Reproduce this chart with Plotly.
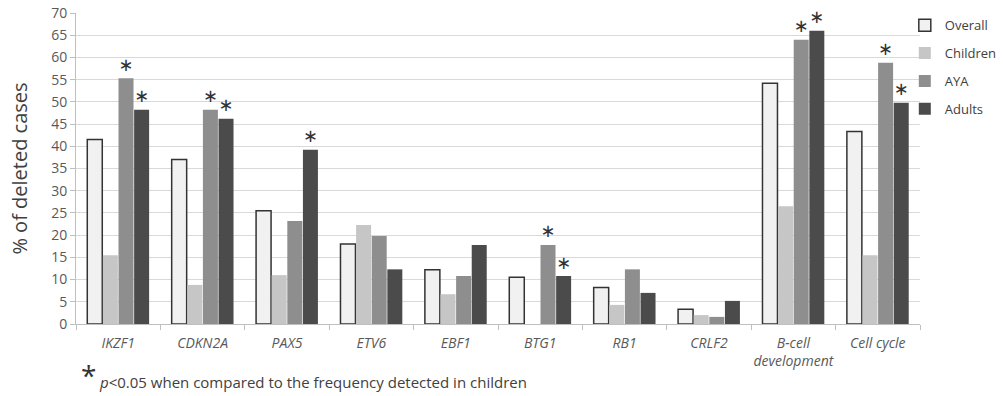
import plotly.graph_objects as go

categories = ["<i>IKZF1</i>", "<i>CDKN2A</i>", "<i>PAX5</i>", "<i>ETV6</i>", "<i>EBF1</i>",
              "<i>BTG1</i>", "<i>RB1</i>", "<i>CRLF2</i>", "<i>B-cell<br>development</i>", "<i>Cell cycle</i>"]
overall = [41.5, 37.0, 25.5, 18.0, 12.2, 10.5, 8.2, 3.3, 54.2, 43.3]
children = [15.5, 8.8, 11.0, 22.3, 6.7, 0.0, 4.3, 2.0, 26.5, 15.5]
aya = [55.3, 48.2, 23.2, 19.8, 10.8, 17.8, 12.3, 1.6, 64.0, 58.8]
adults = [48.2, 46.2, 39.2, 12.3, 17.8, 10.8, 7.0, 5.2, 66.0, 49.8]
aya_sig = [1, 1, 0, 0, 0, 1, 0, 0, 1, 1]
adults_sig = [1, 1, 1, 0, 0, 1, 0, 0, 1, 1]

font = "Open Sans, Noto Sans, sans-serif"
fig = go.Figure()

def add(name, vals, fill, line, lw, sig=None, group=None):
    txt = ["\u2217" if s else "" for s in sig] if sig else None
    fig.add_trace(go.Bar(
        x=categories, y=vals, name=name,
        marker=dict(color=fill, line=dict(color=line, width=lw)),
        text=txt, textposition="outside" if sig else None,
        textfont=dict(size=24, color="#333333", family="DejaVu Sans"),
        cliponaxis=False, legendgroup=group,
    ))

add("Overall", overall, "#f1f1f1", "#333333", 1.5, group="a")
add("Children", children, "#c6c6c6", "#c6c6c6", 0, group="b")
add("AYA", aya, "#8e8e8e", "#8e8e8e", 0, sig=aya_sig, group="c")
add("Adults", adults, "#4b4b4b", "#4b4b4b", 0, sig=adults_sig, group="d")

fig.update_layout(
    width=1003, height=396,
    margin=dict(l=76, r=83, t=13, b=72, autoexpand=False),
    paper_bgcolor="white", plot_bgcolor="white",
    barmode="group", bargap=0.26, bargroupgap=0.04,
    font=dict(family=font, color="#595959", size=13),
    showlegend=True,
    legend=dict(x=0.982, y=1.009, xanchor="left", yanchor="top",
                font=dict(size=13, color="#404040"), itemwidth=30,
                traceorder="grouped", tracegroupgap=8, bgcolor="rgba(0,0,0,0)"),
    yaxis=dict(range=[0, 70], dtick=5, showgrid=True, gridcolor="#d9d9d9", gridwidth=1,
               showline=True, linecolor="#bfbfbf", ticks="outside", ticklen=5, tickcolor="#bfbfbf",
               tickfont=dict(size=14, color="#595959"), ticklabeloverflow="allow",
               title=dict(text="% of deleted cases", font=dict(size=20, color="#404040"), standoff=18),
               zeroline=False, automargin=False),
    xaxis=dict(showline=True, linecolor="#bfbfbf", ticks="outside", ticklen=5, tickcolor="#bfbfbf",
               tickson="boundaries", tickfont=dict(size=14, color="#595959"), tickangle=0,
               ticklabelstandoff=6, ticklabeloverflow="allow", automargin=False),
    annotations=[
        dict(text="*", x=0.0036, y=-0.164, xref="paper", yref="paper", xanchor="left", yanchor="middle",
             showarrow=False, font=dict(size=28, color="#333333")),
        dict(text="<i>p</i><0.05 when compared to the frequency detected in children", x=0.025, y=-0.185,
             xref="paper", yref="paper", xanchor="left", yanchor="middle",
             showarrow=False, font=dict(size=15, color="#404040")),
    ],
)

fig.write_html("out.html", config={"displayModeBar": False},
               post_script="document.body.style.margin='0';document.body.style.overflow='hidden';")
